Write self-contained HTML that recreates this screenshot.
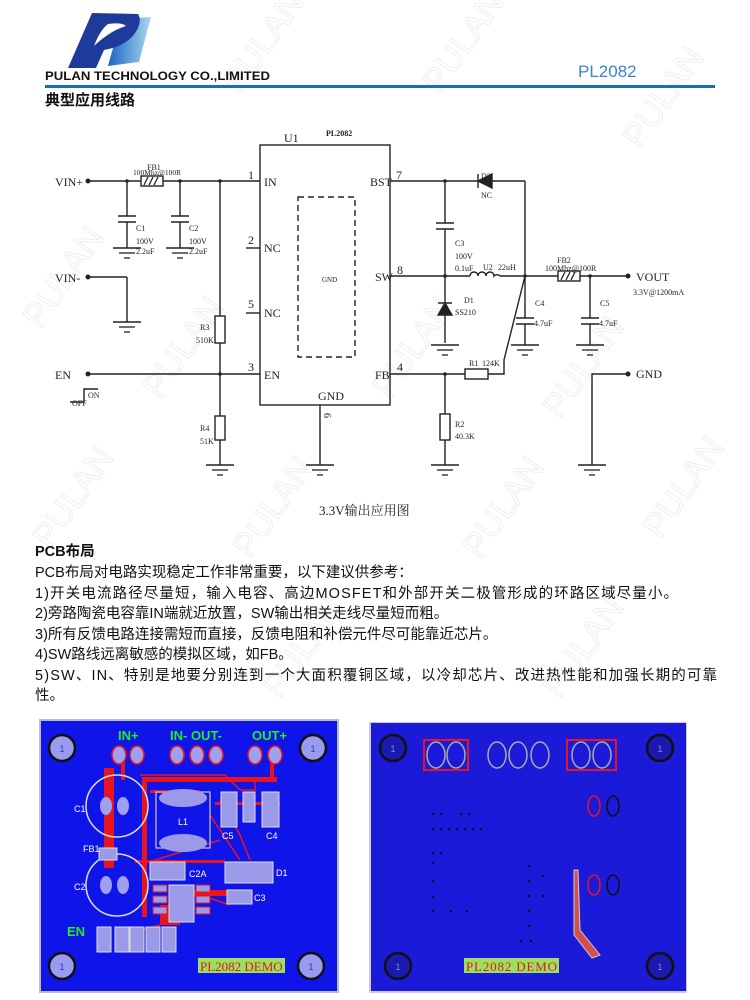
<!DOCTYPE html>
<html><head><meta charset="utf-8"><style>
html,body{margin:0;padding:0;background:#fff;width:750px;height:1000px;overflow:hidden}
svg{display:block}
.s{font-family:"Liberation Serif","Noto Serif CJK SC",serif;fill:#222}
.c{font-family:"Liberation Sans","Noto Sans CJK SC",sans-serif;fill:#111}
.w{font-family:"Liberation Sans",sans-serif;font-size:34px;fill:none;stroke:#ebebeb;stroke-width:0.8}
</style></head><body>
<svg width="750" height="1000" viewBox="0 0 750 1000" xmlns="http://www.w3.org/2000/svg">
<defs>
<linearGradient id="lg" x1="0" x2="1"><stop offset="0" stop-color="#1a66c0"/><stop offset="1" stop-color="#a9d8f0"/></linearGradient>
<g id="gnd"><line x1="-14" y1="0" x2="14" y2="0" stroke="#222" stroke-width="1.5"/><line x1="-8" y1="5" x2="8" y2="5" stroke="#222" stroke-width="1.3"/><line x1="-3" y1="10" x2="3" y2="10" stroke="#222" stroke-width="1.3"/></g>
<g id="cap"><line x1="-9" y1="-3" x2="9" y2="-3" stroke="#222" stroke-width="1.6"/><line x1="-9" y1="3" x2="9" y2="3" stroke="#222" stroke-width="1.6"/></g>
<g id="fb"><rect x="-11" y="-5" width="22" height="10" fill="#fff" stroke="#222" stroke-width="1.4"/><path d="M-8 4 L-4 -4 M-3 4 L1 -4 M2 4 L6 -4" stroke="#222" stroke-width="1.3"/></g>
</defs>
<!-- watermarks -->
<g>
<text class="w" transform="translate(240,95) rotate(-55)">PULAN</text>
<text class="w" transform="translate(440,95) rotate(-55)">PULAN</text>
<text class="w" transform="translate(640,150) rotate(-55)">PULAN</text>
<text class="w" transform="translate(40,330) rotate(-55)">PULAN</text>
<text class="w" transform="translate(160,400) rotate(-55)">PULAN</text>
<text class="w" transform="translate(390,400) rotate(-55)">PULAN</text>
<text class="w" transform="translate(560,420) rotate(-55)">PULAN</text>
<text class="w" transform="translate(50,550) rotate(-55)">PULAN</text>
<text class="w" transform="translate(250,560) rotate(-55)">PULAN</text>
<text class="w" transform="translate(480,560) rotate(-55)">PULAN</text>
<text class="w" transform="translate(660,540) rotate(-55)">PULAN</text>
<text class="w" transform="translate(280,700) rotate(-55)">PULAN</text>
<text class="w" transform="translate(560,700) rotate(-55)">PULAN</text>
</g>
<!-- header logo -->
<path d="M121 19 L151 17 L139 62 L108 66 Z" fill="url(#lg)"/>
<path d="M68 68 L92 13 L138 14 Q142 20 137 30 Q128 46 104 50 L96 68 Z" fill="#1e3a9a"/>
<path d="M96 44 Q112 30 126 26 Q122 22 108 24 Q100 30 94 46 Z" fill="#fff"/>
<text x="45" y="80" class="c" font-size="12" font-weight="bold" textLength="225" lengthAdjust="spacingAndGlyphs">PULAN TECHNOLOGY CO.,LIMITED</text>
<text x="578" y="77" font-family="Liberation Sans,sans-serif" font-size="17" fill="#3a86c8">PL2082</text>
<rect x="45" y="85" width="670" height="3" fill="#1a6eb5"/>
<text x="45" y="105" class="c" font-size="15" font-weight="bold">典型应用线路</text>

<!-- schematic -->
<g stroke="#222" stroke-width="1.4" fill="none">
<rect x="260" y="145" width="130" height="260"/>
<rect x="298" y="197" width="57" height="160" stroke-dasharray="6,4"/>
<line x1="88" y1="181" x2="260" y2="181"/>
<line x1="127" y1="181" x2="127" y2="216"/><line x1="127" y1="222" x2="127" y2="248"/>
<line x1="180" y1="181" x2="180" y2="216"/><line x1="180" y1="222" x2="180" y2="248"/>
<line x1="220" y1="181" x2="220" y2="316"/><line x1="220" y1="343" x2="220" y2="416"/><line x1="220" y1="440" x2="220" y2="465"/>
<rect x="215" y="316" width="10" height="27"/><rect x="215" y="416" width="10" height="24"/>
<line x1="88" y1="277" x2="127" y2="277"/><line x1="127" y1="277" x2="127" y2="322"/>
<line x1="246" y1="248" x2="260" y2="248"/><line x1="246" y1="313" x2="260" y2="313"/>
<line x1="88" y1="374" x2="260" y2="374"/>
<path d="M70 402 L84 402 L84 389 L98 389"/>
<line x1="320" y1="405" x2="320" y2="465"/>
<line x1="390" y1="181" x2="478" y2="181"/><line x1="492" y1="181" x2="525" y2="181"/>
<line x1="525" y1="181" x2="525" y2="276"/>
<line x1="445" y1="181" x2="445" y2="223"/><line x1="445" y1="229" x2="445" y2="305"/>
<line x1="445" y1="315" x2="445" y2="343"/>
<line x1="390" y1="276" x2="470" y2="276"/>
<path d="M470 276 a4 4 0 0 1 8 0 a4 4 0 0 1 8 0 a4 4 0 0 1 8 0 a4 4 0 0 1 6 0"/>
<line x1="500" y1="276" x2="558" y2="276"/><line x1="580" y1="276" x2="628" y2="276"/>
<line x1="525" y1="276" x2="525" y2="318"/><line x1="525" y1="324" x2="525" y2="345"/>
<line x1="590" y1="276" x2="590" y2="318"/><line x1="590" y1="324" x2="590" y2="345"/>
<path d="M525 276 L504 360 L504 374 L488 374"/>
<line x1="390" y1="374" x2="465" y2="374"/>
<rect x="465" y="369" width="23" height="10"/>
<line x1="445" y1="374" x2="445" y2="414"/><rect x="440" y="414" width="10" height="26"/><line x1="445" y1="440" x2="445" y2="465"/>
<path d="M628 374 L592 374 L592 465"/>
</g>
<path d="M478 174 L478 188 M492 174 L478 181 L492 188 Z" stroke="#222" stroke-width="1.4" fill="#222"/>
<path d="M438 315 L452 315 L445 303 Z M438 303 L452 303" stroke="#222" stroke-width="1.4" fill="#222"/>
<use href="#cap" x="127" y="219"/><use href="#cap" x="180" y="219"/><use href="#cap" x="445" y="226"/>
<use href="#cap" x="525" y="321"/><use href="#cap" x="590" y="321"/>
<use href="#fb" x="152" y="181"/><use href="#fb" x="569" y="276"/>
<use href="#gnd" x="127" y="248"/><use href="#gnd" x="180" y="248"/><use href="#gnd" x="127" y="322"/>
<use href="#gnd" x="220" y="465"/><use href="#gnd" x="320" y="465"/><use href="#gnd" x="445" y="345"/>
<use href="#gnd" x="445" y="465"/><use href="#gnd" x="525" y="345"/><use href="#gnd" x="590" y="345"/><use href="#gnd" x="592" y="465"/>
<g fill="#222"><circle cx="88" cy="181" r="2.5"/><circle cx="88" cy="277" r="2.5"/><circle cx="88" cy="374" r="2.5"/>
<circle cx="628" cy="276" r="2.5"/><circle cx="628" cy="374" r="2.5"/>
<circle cx="127" cy="181" r="1.8"/><circle cx="180" cy="181" r="1.8"/><circle cx="220" cy="181" r="1.8"/><circle cx="220" cy="374" r="1.8"/>
<circle cx="445" cy="181" r="1.8"/><circle cx="445" cy="276" r="1.8"/><circle cx="525" cy="276" r="1.8"/><circle cx="590" cy="276" r="1.8"/><circle cx="445" cy="374" r="1.8"/></g>
<g class="s" font-size="12">
<text x="55" y="186">VIN+</text><text x="55" y="282">VIN-</text><text x="55" y="379">EN</text>
<text x="284" y="142">U1</text><text x="326" y="136" font-size="8" font-weight="bold">PL2082</text>
<text x="264" y="186">IN</text><text x="264" y="252">NC</text><text x="264" y="317">NC</text><text x="264" y="379">EN</text>
<text x="248" y="179">1</text><text x="248" y="244">2</text><text x="248" y="308">5</text><text x="248" y="371">3</text>
<text x="370" y="186">BST</text><text x="375" y="281">SW</text><text x="375" y="379">FB</text>
<text x="396" y="179">7</text><text x="397" y="274">8</text><text x="397" y="371">4</text>
<text x="318" y="400">GND</text><text x="324" y="413" transform="rotate(90 324 413)" font-size="10">6</text>
<text x="636" y="281">VOUT</text><text x="636" y="378">GND</text>
</g>
<g class="s" font-size="8" fill="#444">
<text x="147" y="170">FB1</text><text x="133" y="175" font-size="7.5">100Mhz@100R</text>
<text x="136" y="231">C1</text><text x="136" y="244">100V</text><text x="136" y="254">2.2uF</text>
<text x="189" y="231">C2</text><text x="189" y="244">100V</text><text x="189" y="254">2.2uF</text>
<text x="200" y="330">R3</text><text x="196" y="343">510K</text>
<text x="200" y="431">R4</text><text x="200" y="444">51K</text>
<text x="72" y="406">OFF</text><text x="88" y="398">ON</text>
<text x="481" y="179">D2</text><text x="481" y="198">NC</text>
<text x="455" y="246">C3</text><text x="455" y="259">100V</text><text x="455" y="271">0.1uF</text>
<text x="464" y="303">D1</text><text x="455" y="315">SS210</text>
<text x="483" y="270">U2</text><text x="498" y="270">22uH</text>
<text x="557" y="263">FB2</text><text x="545" y="271">100Mhz@100R</text>
<text x="633" y="295">3.3V@1200mA</text>
<text x="535" y="306">C4</text><text x="534" y="326">4.7uF</text>
<text x="600" y="306">C5</text><text x="599" y="326">4.7uF</text>
<text x="469" y="366">R1</text><text x="482" y="366">124K</text>
<text x="455" y="427">R2</text><text x="455" y="439">40.3K</text>
<text x="322" y="282" font-size="7">GND</text>
</g>
<text x="319" y="515" class="s" font-size="13">3.3V输出应用图</text>

<g class="c" font-size="14.5">
<text x="35" y="556" font-weight="bold">PCB布局</text>
<text x="35" y="577">PCB布局对电路实现稳定工作非常重要，以下建议供参考：</text>
<text x="35" y="598" textLength="643">1)开关电流路径尽量短，输入电容、高边MOSFET和外部开关二极管形成的环路区域尽量小。</text>
<text x="35" y="618">2)旁路陶瓷电容靠IN端就近放置，SW输出相关走线尽量短而粗。</text>
<text x="35" y="639">3)所有反馈电路连接需短而直接，反馈电阻和补偿元件尽可能靠近芯片。</text>
<text x="35" y="659">4)SW路线远离敏感的模拟区域，如FB。</text>
<text x="35" y="680" textLength="682">5)SW、IN、特别是地要分别连到一个大面积覆铜区域，以冷却芯片、改进热性能和加强长期的可靠</text>
<text x="35" y="700">性。</text>
</g>

<!-- PCB left -->
<rect x="39" y="719" width="300" height="274" fill="#bbb"/>
<rect x="41" y="721" width="296" height="270" fill="#0f14e8"/>
<g fill="#9a9af0" stroke="#111" stroke-width="2.5">
<circle cx="62" cy="748" r="13"/><circle cx="313" cy="748" r="13"/><circle cx="62" cy="966" r="13"/><circle cx="311" cy="966" r="13"/></g>
<g fill="#3434c0" font-family="Liberation Sans,sans-serif" font-size="9" text-anchor="middle"><text x="62" y="752">1</text><text x="313" y="752">1</text><text x="62" y="970">1</text><text x="311" y="970">1</text></g>
<g fill="#e8141e">
<rect x="104" y="768" width="10" height="100"/><rect x="142" y="777" width="135" height="5"/><rect x="142" y="777" width="5" height="140"/>
<rect x="150" y="790" width="50" height="3"/><rect x="215" y="802" width="65" height="3"/><rect x="135" y="860" width="90" height="3"/>
<rect x="185" y="890" width="45" height="6"/><rect x="160" y="905" width="20" height="20"/>
<rect x="270" y="760" width="4" height="22"/><rect x="121" y="760" width="4" height="20"/>
</g>
<g fill="none" stroke="#e8141e" stroke-width="1.5">
<path d="M140 775 L225 775 L240 790 L255 790 L255 780"/><path d="M220 800 L240 835 L250 860"/><path d="M155 860 L220 840"/>
<path d="M200 895 L230 905"/><path d="M160 925 L140 930"/><path d="M210 815 L240 860"/>
</g>
<g stroke="#e8141e" stroke-width="1.5" fill="#a0a0f0">
<ellipse cx="119" cy="755" rx="7" ry="9"/><ellipse cx="137" cy="755" rx="7" ry="9"/>
<ellipse cx="177" cy="755" rx="7" ry="9"/><ellipse cx="197" cy="755" rx="7" ry="9"/><ellipse cx="216" cy="755" rx="7" ry="9"/>
<ellipse cx="255" cy="755" rx="7" ry="9"/><ellipse cx="275" cy="755" rx="7" ry="9"/>
</g>
<g fill="none" stroke="#ddd" stroke-width="1.5"><circle cx="117" cy="806" r="31"/><circle cx="117" cy="885" r="31"/></g>
<g fill="#a0a0f0"><ellipse cx="106" cy="806" rx="6" ry="9"/><ellipse cx="123" cy="806" rx="6" ry="9"/><ellipse cx="106" cy="885" rx="6" ry="9"/><ellipse cx="123" cy="885" rx="6" ry="9"/></g>
<rect x="156" y="792" width="54" height="56" fill="none" stroke="#ccc" stroke-width="1.2"/>
<ellipse cx="183" cy="798" rx="24" ry="9" fill="#9a9ae8"/><ellipse cx="183" cy="843" rx="24" ry="9" fill="#9a9ae8"/>
<g fill="#9a9ae8" stroke="#ddd" stroke-width="1">
<rect x="221" y="792" width="16" height="35"/><rect x="243" y="792" width="12" height="30"/><rect x="262" y="792" width="17" height="35"/>
<rect x="225" y="862" width="48" height="21"/><rect x="150" y="862" width="35" height="18"/><rect x="169" y="885" width="25" height="37"/>
<rect x="227" y="890" width="25" height="14"/><rect x="99" y="848" width="18" height="12"/>
<rect x="97" y="927" width="14" height="25"/><rect x="115" y="927" width="14" height="25"/><rect x="130" y="927" width="14" height="25"/><rect x="146" y="927" width="14" height="25"/><rect x="162" y="927" width="14" height="25"/>
</g>
<g fill="#9a9ae8" stroke="#e8141e"><rect x="153" y="885" width="14" height="7"/><rect x="153" y="896" width="14" height="7"/><rect x="153" y="907" width="14" height="7"/><rect x="196" y="885" width="14" height="7"/><rect x="196" y="896" width="14" height="7"/><rect x="196" y="907" width="14" height="7"/></g>
<g fill="#fff" font-family="Liberation Sans,sans-serif" font-size="9">
<text x="74" y="812">C1</text><text x="74" y="890">C2</text><text x="83" y="852">FB1</text><text x="178" y="825">L1</text>
<text x="222" y="839">C5</text><text x="266" y="839">C4</text><text x="189" y="877">C2A</text><text x="276" y="876">D1</text><text x="254" y="901">C3</text>
</g>
<g fill="#22ee22" font-family="Liberation Sans,sans-serif" font-size="13" font-weight="bold">
<text x="118" y="740">IN+</text><text x="170" y="740">IN- OUT-</text><text x="252" y="740">OUT+</text><text x="67" y="936">EN</text></g>
<rect x="198" y="958" width="87" height="15" fill="#9ce060"/>
<text x="200" y="971" font-family="Liberation Serif,serif" font-size="13" fill="#e8141e">PL2082 DEMO</text>

<!-- PCB right -->
<rect x="369" y="722" width="318" height="271" fill="#ccc"/>
<rect x="371" y="723" width="315" height="268" fill="#1a1ad8"/>
<g fill="#1a1ab0" stroke="#111" stroke-width="2.5">
<circle cx="393" cy="748" r="13"/><circle cx="660" cy="748" r="13"/><circle cx="398" cy="966" r="13"/><circle cx="660" cy="966" r="13"/></g>
<g fill="#8888dd" font-family="Liberation Sans,sans-serif" font-size="9" text-anchor="middle"><text x="393" y="752">1</text><text x="660" y="752">1</text><text x="398" y="970">1</text><text x="660" y="970">1</text></g>
<g fill="none" stroke="#e8141e" stroke-width="2"><rect x="424" y="740" width="44" height="30"/><rect x="567" y="740" width="49" height="30"/></g>
<g fill="none" stroke="#aaa" stroke-width="1.5">
<ellipse cx="436" cy="755" rx="9" ry="13"/><ellipse cx="456" cy="755" rx="9" ry="13"/><ellipse cx="497" cy="755" rx="9" ry="13"/><ellipse cx="518" cy="755" rx="9" ry="13"/><ellipse cx="540" cy="755" rx="9" ry="13"/><ellipse cx="581" cy="755" rx="9" ry="13"/><ellipse cx="602" cy="755" rx="9" ry="13"/></g>
<ellipse cx="594" cy="806" rx="6" ry="10" fill="none" stroke="#e8141e" stroke-width="1.5"/><ellipse cx="613" cy="806" rx="6" ry="10" fill="none" stroke="#111" stroke-width="1.5"/>
<ellipse cx="594" cy="885" rx="6" ry="10" fill="none" stroke="#e8141e" stroke-width="1.5"/><ellipse cx="613" cy="885" rx="6" ry="10" fill="none" stroke="#111" stroke-width="1.5"/>
<path d="M574 870 L578 870 L580 930 L600 955 L592 958 L574 935 Z" fill="#d05050" stroke="#ccc"/>
<g fill="#111">
<rect x="432" y="813" width="2" height="2"/><rect x="440" y="813" width="2" height="2"/><rect x="460" y="813" width="2" height="2"/><rect x="468" y="813" width="2" height="2"/>
<rect x="432" y="828" width="2" height="2"/><rect x="440" y="828" width="2" height="2"/><rect x="448" y="828" width="2" height="2"/><rect x="456" y="828" width="2" height="2"/><rect x="464" y="828" width="2" height="2"/><rect x="472" y="828" width="2" height="2"/><rect x="480" y="828" width="2" height="2"/>
<rect x="432" y="852" width="2" height="2"/><rect x="440" y="852" width="2" height="2"/><rect x="432" y="862" width="2" height="2"/><rect x="432" y="880" width="2" height="2"/><rect x="432" y="896" width="2" height="2"/><rect x="432" y="910" width="2" height="2"/><rect x="450" y="910" width="2" height="2"/><rect x="466" y="910" width="2" height="2"/>
<rect x="528" y="865" width="2" height="2"/><rect x="528" y="880" width="2" height="2"/><rect x="528" y="895" width="2" height="2"/><rect x="528" y="910" width="2" height="2"/><rect x="528" y="925" width="2" height="2"/><rect x="542" y="875" width="2" height="2"/><rect x="542" y="895" width="2" height="2"/><rect x="520" y="940" width="2" height="2"/><rect x="530" y="940" width="2" height="2"/>
</g>
<rect x="464" y="958" width="95" height="15" fill="#9ce060"/>
<text x="466" y="971" font-family="Liberation Serif,serif" font-size="13" fill="#e8141e" textLength="91">PL2082  DEMO</text>
</svg>
</body></html>
